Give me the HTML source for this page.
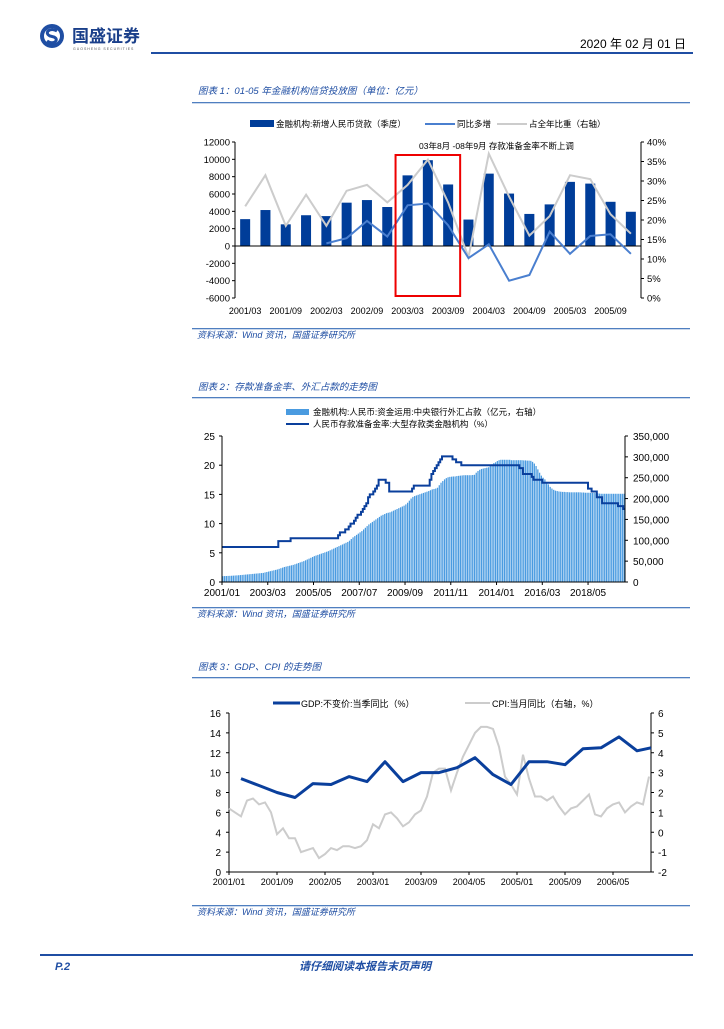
<!DOCTYPE html>
<html><head><meta charset="utf-8">
<style>
html,body{margin:0;padding:0;background:#fff;}
svg text{font-family:"Liberation Sans","Noto Sans CJK SC",sans-serif;}
</style></head>
<body>
<svg id="page" width="724" height="1024" viewBox="0 0 724 1024" xmlns="http://www.w3.org/2000/svg">
<rect width="724" height="1024" fill="#fff"/>
<!-- header -->
<g>
  <g>
    <circle cx="52" cy="36" r="12" fill="#1f4ea3"/>
    <circle cx="52" cy="36" r="8" fill="#fff"/>
    <path d="M57 31 Q52 28 48 31 Q46 34 50 36 L54 37 Q58 39 55 42 Q51 44 47 41" stroke="#1f4ea3" stroke-width="3" fill="none"/>
    <text x="72" y="42" font-size="17" font-weight="bold" fill="#1a3f8a">国盛证券</text>
    <text x="73" y="50" font-size="3.5" fill="#555" letter-spacing="1">GUOSHENG SECURITIES</text>
  </g>
  <text x="686" y="48" font-size="12" text-anchor="end" fill="#000">2020 年 02 月 01 日</text>
  <rect x="151" y="52" width="542" height="2" fill="#1f4ea3"/>
</g>

<!-- chart 1 -->
<text x="198" y="94" font-size="9.5" font-style="italic" fill="#1f4ea3">图表 1：01-05 年金融机构信贷投放图（单位：亿元）</text>
<rect x="192" y="102" width="498" height="1.3" fill="#4f7fc0"/>
<g id="c1"></g>
<rect x="192" y="328" width="498" height="1.3" fill="#4f7fc0"/>
<text x="197" y="338" font-size="9" font-style="italic" fill="#1f4ea3">资料来源：Wind 资讯，国盛证券研究所</text>

<!-- chart 2 -->
<text x="198" y="390" font-size="9.5" font-style="italic" fill="#1f4ea3">图表 2：存款准备金率、外汇占款的走势图</text>
<rect x="192" y="397" width="498" height="1.3" fill="#4f7fc0"/>
<g id="c2"></g>
<rect x="192" y="607" width="498" height="1.3" fill="#4f7fc0"/>
<text x="197" y="617" font-size="9" font-style="italic" fill="#1f4ea3">资料来源：Wind 资讯，国盛证券研究所</text>

<!-- chart 3 -->
<text x="198" y="670" font-size="9.5" font-style="italic" fill="#1f4ea3">图表 3：GDP、CPI 的走势图</text>
<rect x="192" y="677" width="498" height="1.3" fill="#4f7fc0"/>
<g id="c3"></g>
<rect x="192" y="905" width="498" height="1.3" fill="#4f7fc0"/>
<text x="197" y="915" font-size="9" font-style="italic" fill="#1f4ea3">资料来源：Wind 资讯，国盛证券研究所</text>

<!-- footer -->
<rect x="40" y="954" width="653" height="2" fill="#1f4ea3"/>
<text x="55" y="970" font-size="11" font-weight="bold" font-style="italic" fill="#1f4ea3">P.2</text>
<text x="365" y="970" font-size="11" font-weight="bold" font-style="italic" text-anchor="middle" fill="#1f4ea3">请仔细阅读本报告末页声明</text>
</svg>

<script>
// ---------- Chart 1 data ----------
const c1Categories = ["2001/03","2001/06","2001/09","2001/12","2002/03","2002/06","2002/09","2002/12","2003/03","2003/06","2003/09","2003/12","2004/03","2004/06","2004/09","2004/12","2005/03","2005/06","2005/09","2005/12"];
const c1Loans = [3100,4150,2500,3550,3450,5000,5300,4500,8150,9900,7100,3050,8350,6050,3700,4800,7400,7200,5100,3950];
const c1YoY = [null,null,null,null,300,900,2900,1100,4700,4900,2400,-1400,200,-4000,-3350,1650,-900,1150,1350,-900];
const c1Share = [23.5,31.5,18.5,26.5,18.5,27.5,29,24.5,29,35.5,24.5,10.5,37,26,16,21,31.5,30.5,21.5,16.5];
const c1LeftTicks = [12000,10000,8000,6000,4000,2000,0,-2000,-4000,-6000];
const c1RightTicks = [40,35,30,25,20,15,10,5,0];

// ---------- Chart 2 data ----------
const c2StartYear = 2001;
const c2Forex = [
14000,14200,14400,14600,14800,15000,15300,15600,15900,16200,16600,17000,
17400,17800,18200,18600,19000,19400,19800,20200,20600,21000,21400,21800,
23000,24000,25000,26000,27000,28000,29000,30000,31500,33000,34500,36000,
37000,38000,39000,40000,41000,42500,44000,45500,47000,48500,50000,52000,
54000,56000,58000,60000,62000,63500,65000,66500,68000,69500,71000,72500,
74000,76000,78000,80000,82000,84000,86000,88000,90000,92000,94000,96000,
99000,103000,107000,110000,113000,116000,119000,122000,126000,130000,134000,138000,
141000,144000,147000,150000,153000,156000,159000,161000,163000,165000,166000,167000,
169000,171000,173000,175000,177000,179000,181000,183000,186000,190000,195000,200000,
204000,206000,207500,209000,210500,212000,213500,215000,216500,218000,220000,222000,
223000,224000,226000,232000,238000,242000,246000,249000,251000,252000,252500,253000,
253000,254000,254500,255000,255500,256000,256000,256000,256000,256000,256500,257000,
262000,266000,269000,271000,272000,273000,274000,275000,278000,282000,285000,287000,
290000,292000,293000,293000,293000,293000,293000,293000,292000,292000,292000,292000,
292000,292000,292000,291500,291500,291000,291000,290500,288000,284000,278000,270000,
262000,255000,250000,246000,240000,234000,228000,224000,221000,219000,218000,217000,
216500,216000,216000,215500,215500,215000,215000,215000,215000,215000,215000,215000,
214500,214500,214000,214000,214000,213500,213500,213500,213000,212500,212000,211500,
211500,211500,211500,211500,211500,211500,211500,211500,211500,211500,211500,211500,211500];
const c2RRR = [
6,6,6,6,6,6,6,6,6,6,6,6,
6,6,6,6,6,6,6,6,6,6,6,6,
6,6,6,6,6,6,6,6,7,7,7,7,
7,7,7,7.5,7.5,7.5,7.5,7.5,7.5,7.5,7.5,7.5,
7.5,7.5,7.5,7.5,7.5,7.5,7.5,7.5,7.5,7.5,7.5,7.5,
7.5,7.5,7.5,7.5,7.5,7.5,8,8.5,8.5,8.5,9,9,
9.5,10,10,10.5,11,11.5,11.5,12,12.5,13,13.5,14.5,
15,15,15.5,16,16.5,17.5,17.5,17.5,17.5,17,17,15.5,
15.5,15.5,15.5,15.5,15.5,15.5,15.5,15.5,15.5,15.5,15.5,15.5,
16,16.5,16.5,16.5,16.5,16.5,16.5,16.5,16.5,16.5,17.5,18.5,
19,19.5,20,20.5,21,21.5,21.5,21.5,21.5,21.5,21.5,21,
21,20.5,20.5,20.5,20,20,20,20,20,20,20,20,
20,20,20,20,20,20,20,20,20,20,20,20,
20,20,20,20,20,20,20,20,20,20,20,20,
20,19.5,19.5,18.5,18.5,18.5,18.5,18.5,18,17.5,17.5,17.5,
17.5,17.5,17,17,17,17,17,17,17,17,17,17,
17,17,17,17,17,17,17,17,17,17,17,17,
17,17,17,17,16,16,15.5,15.5,15.5,14.5,14.5,14.5,
13.5,13.5,13.5,13.5,13.5,13.5,13.5,13.5,13.5,13,13,13,12.5];
const c2LeftTicks = [25,20,15,10,5,0];
const c2RightTicks = ["350,000","300,000","250,000","200,000","150,000","100,000","50,000","0"];
const c2XLabels = ["2001/01","2003/03","2005/05","2007/07","2009/09","2011/11","2014/01","2016/03","2018/05"];

// ---------- Chart 3 data ----------
const c3GDP = [9.4,8.7,8.0,7.5,8.9,8.8,9.6,9.1,11.1,9.1,10.0,10.0,10.5,11.5,9.8,8.8,11.1,11.1,10.8,12.4,12.5,13.6,12.2,12.5];
const c3CPI = [1.2,1.0,0.8,1.6,1.7,1.4,1.5,1.0,-0.1,0.2,-0.3,-0.3,-1.0,-0.9,-0.8,-1.3,-1.1,-0.8,-0.9,-0.7,-0.7,-0.8,-0.7,-0.4,
0.4,0.2,0.9,1.0,0.7,0.3,0.5,0.9,1.1,1.8,3.0,3.2,3.2,2.1,3.0,3.8,4.4,5.0,5.3,5.3,5.2,4.3,2.8,2.4,
1.9,3.9,2.7,1.8,1.8,1.6,1.8,1.3,0.9,1.2,1.3,1.6,1.9,0.9,0.8,1.2,1.4,1.5,1.0,1.3,1.5,1.4,2.8];
const c3LeftTicks = [16,14,12,10,8,6,4,2,0];
const c3RightTicks = [6,5,4,3,2,1,0,-1,-2];
const c3XLabels = ["2001/01","2001/09","2002/05","2003/01","2003/09","2004/05","2005/01","2005/09","2006/05"];

const NS = "http://www.w3.org/2000/svg";
function mk(parent, tag, attrs, txt){
  const e = document.createElementNS(NS, tag);
  for (const k in attrs) e.setAttribute(k, attrs[k]);
  if (txt !== undefined) e.textContent = txt;
  parent.appendChild(e);
  return e;
}

// ================= Chart 1 =================
(function(){
  const g = document.getElementById('c1');
  const L=235, R=641, T=142, B=298;
  const yL = v => T + (12000 - v) / 18000 * (B - T);
  const yR = v => B - v / 40 * (B - T);
  const n = c1Categories.length, step = (R - L) / n;
  const xC = i => L + step * (i + 0.5);
  // legend
  let e;
  e = mk(g,'rect',{x:250,y:120,width:24,height:7,fill:'#003d99'});
   
  e = mk(g,'text',{x:276,y:127,'font-size':8.5,fill:'#000'},'金融机构:新增人民币贷款（季度）');
   
  e = mk(g,'line',{x1:425,y1:124,x2:455,y2:124,stroke:'#4a7fcf','stroke-width':2});
   
  e = mk(g,'text',{x:457,y:127,'font-size':8.5,fill:'#000'},'同比多增');
   
  e = mk(g,'line',{x1:497,y1:124,x2:527,y2:124,stroke:'#cccccc','stroke-width':2});
   
  e = mk(g,'text',{x:529,y:127,'font-size':8.5,fill:'#000'},'占全年比重（右轴）');
   
  // axes
  e = mk(g,'line',{x1:L,y1:T,x2:L,y2:B,stroke:'#000','stroke-width':1});
   
  e = mk(g,'line',{x1:R,y1:T,x2:R,y2:B,stroke:'#000','stroke-width':1});
   
  c1LeftTicks.forEach(v=>{
    mk(g,'line',{x1:L-3,y1:yL(v),x2:L,y2:yL(v),stroke:'#000'});
    e = mk(g,'text',{x:L-5,y:yL(v)+3.5,'font-size':9.5,'text-anchor':'end',fill:'#000'},String(v));
     
  });
  c1RightTicks.forEach(v=>{
    mk(g,'line',{x1:R,y1:yR(v),x2:R+3,y2:yR(v),stroke:'#000'});
    e = mk(g,'text',{x:R+6,y:yR(v)+3.5,'font-size':9.5,fill:'#000'},v+'%');
     
  });
  // bars
  c1Loans.forEach((v,i)=>{
    const y0=yL(0), y1=yL(v);
    e = mk(g,'rect',{x:xC(i)-5,y:Math.min(y0,y1),width:10,height:Math.abs(y0-y1),fill:'#003d99'});
     
  });
  e = mk(g,'line',{x1:L,y1:yL(0),x2:R,y2:yL(0),stroke:'#000'});
   
  // share line
  let d = c1Share.map((v,i)=>(i?'L':'M')+xC(i).toFixed(1)+' '+yR(v).toFixed(1)).join(' ');
  e = mk(g,'path',{d:d,fill:'none',stroke:'#cccccc','stroke-width':2});
   
  // yoy line
  let pts=[]; c1YoY.forEach((v,i)=>{ if(v!==null) pts.push(xC(i).toFixed(1)+' '+yL(v).toFixed(1)); });
  e = mk(g,'path',{d:'M'+pts.join(' L'),fill:'none',stroke:'#4a7fcf','stroke-width':2});
   
  // x labels
  c1Categories.forEach((c,i)=>{
    if(i%2===0){
      e = mk(g,'text',{x:xC(i),y:314,'font-size':9,'text-anchor':'middle',fill:'#000'},c);
       
    }
  });
  // highlight box
  e = mk(g,'rect',{x:xC(8)-12,y:155,width:(xC(10)-xC(8))+24,height:141,fill:'none',stroke:'#ee0000','stroke-width':2});
   
  e = mk(g,'text',{x:419,y:149,'font-size':8.5,fill:'#000'},'03年8月 -08年9月 存款准备金率不断上调');
   
})();

// ================= Chart 2 =================
(function(){
  const g = document.getElementById('c2');
  const L=222, R=625, T=436, B=582;
  const n = c2Forex.length, step = (R-L)/n;
  const yL = v => B - v/25*(B-T);
  const yR = v => B - v/350000*(B-T);
  const xC = i => L + step*(i+0.5);
  let e;
  e = mk(g,'rect',{x:286,y:409,width:23,height:6,fill:'#4a9be0'});
   
  e = mk(g,'text',{x:313,y:415,'font-size':8.5,fill:'#000'},'金融机构:人民币:资金运用:中央银行外汇占款（亿元，右轴）');
   
  e = mk(g,'line',{x1:286,y1:424,x2:309,y2:424,stroke:'#0a3f9c','stroke-width':2});
   
  e = mk(g,'text',{x:313,y:427,'font-size':8.5,fill:'#000'},'人民币存款准备金率:大型存款类金融机构（%）');
   
  // bars
  c2Forex.forEach((v,i)=>{
    e = mk(g,'rect',{x:(L+step*i+0.2).toFixed(2),y:yR(v).toFixed(2),width:(step-0.5).toFixed(2),height:(B-yR(v)).toFixed(2),fill:'#4a9be0'});
     
  });
  // step line
  let d='';
  c2RRR.forEach((v,i)=>{ const x0=L+step*i, x1=L+step*(i+1);
    d += (i?'L':'M')+x0.toFixed(1)+' '+yL(v).toFixed(1)+' L'+x1.toFixed(1)+' '+yL(v).toFixed(1)+' '; });
  e = mk(g,'path',{d:d,fill:'none',stroke:'#0a3f9c','stroke-width':2});
   
  // axes
  e = mk(g,'line',{x1:L,y1:T,x2:L,y2:B,stroke:'#000'});
   
  e = mk(g,'line',{x1:R,y1:T,x2:R,y2:B,stroke:'#000'});
   
  e = mk(g,'line',{x1:L,y1:B,x2:R,y2:B,stroke:'#000'});
   
  c2LeftTicks.forEach(v=>{
    mk(g,'line',{x1:L-3,y1:yL(v),x2:L,y2:yL(v),stroke:'#000'});
    e = mk(g,'text',{x:L-7,y:yL(v)+4,'font-size':10,'text-anchor':'end',fill:'#000'},String(v));
     
  });
  c2RightTicks.forEach((t,k)=>{
    const v = 350000 - k*50000;
    mk(g,'line',{x1:R,y1:yR(v),x2:R+3,y2:yR(v),stroke:'#000'});
    e = mk(g,'text',{x:R+8,y:yR(v)+4,'font-size':10,fill:'#000'},t);
     
  });
  c2XLabels.forEach((t,k)=>{
    const i = k*26;
    const x = L + step*i;
    mk(g,'line',{x1:x,y1:B,x2:x,y2:B+3,stroke:'#000'});
    e = mk(g,'text',{x:x,y:B+14,'font-size':10,'text-anchor':'middle',fill:'#000'},t);
     
  });
})();

// ================= Chart 3 =================
(function(){
  const g = document.getElementById('c3');
  const L=229, R=651, T=713, B=872;
  const px = 6.0;
  const xM = m => L + m*px;
  const yL = v => B - v/16*(B-T);
  const yR = v => B - (v+2)/8*(B-T);
  let e;
  e = mk(g,'line',{x1:273,y1:703,x2:300,y2:703,stroke:'#0a3f9c','stroke-width':3});
   
  e = mk(g,'text',{x:301,y:707,'font-size':9,fill:'#000'},'GDP:不变价:当季同比（%）');
   
  e = mk(g,'line',{x1:465,y1:703,x2:490,y2:703,stroke:'#cccccc','stroke-width':2});
   
  e = mk(g,'text',{x:492,y:707,'font-size':9,fill:'#000'},'CPI:当月同比（右轴，%）');
   
  // axes
  e = mk(g,'line',{x1:L,y1:T,x2:L,y2:B,stroke:'#000'});
   
  e = mk(g,'line',{x1:R,y1:T,x2:R,y2:B,stroke:'#000'});
   
  e = mk(g,'line',{x1:L,y1:B,x2:R,y2:B,stroke:'#000'});
   
  c3LeftTicks.forEach(v=>{
    mk(g,'line',{x1:L-3,y1:yL(v),x2:L,y2:yL(v),stroke:'#000'});
    e = mk(g,'text',{x:L-8,y:yL(v)+4,'font-size':10,'text-anchor':'end',fill:'#000'},String(v));
     
  });
  c3RightTicks.forEach(v=>{
    mk(g,'line',{x1:R,y1:yR(v),x2:R+3,y2:yR(v),stroke:'#000'});
    e = mk(g,'text',{x:R+7,y:yR(v)+4,'font-size':10,fill:'#000'},String(v));
     
  });
  c3XLabels.forEach((t,k)=>{
    const x = xM(k*8);
    mk(g,'line',{x1:x,y1:B,x2:x,y2:B+3,stroke:'#000'});
    e = mk(g,'text',{x:x,y:B+13,'font-size':9,'text-anchor':'middle',fill:'#000'},t);
     
  });
  let d = c3CPI.map((v,i)=>(i?'L':'M')+xM(i).toFixed(1)+' '+yR(v).toFixed(1)).join(' ');
  e = mk(g,'path',{d:d,fill:'none',stroke:'#cccccc','stroke-width':2});
   
  d = c3GDP.map((v,i)=>(i?'L':'M')+Math.min(R,xM(2+3*i)).toFixed(1)+' '+yL(v).toFixed(1)).join(' ');
  e = mk(g,'path',{d:d,fill:'none',stroke:'#0a3f9c','stroke-width':3,'stroke-linejoin':'round'});
   
})();
</script>
</body></html>
